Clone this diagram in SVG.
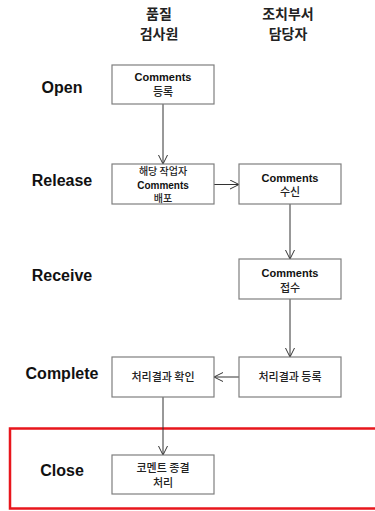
<svg xmlns="http://www.w3.org/2000/svg" width="375" height="511" viewBox="0 0 375 511">
<style>
.box{fill:#fff;stroke:#7f7f7f;stroke-width:1.2}
.lbl{font-family:"Liberation Sans","Noto Sans CJK KR",sans-serif;font-weight:bold;font-size:16px;fill:#111;text-anchor:middle}
.hdr{font-family:"Noto Sans CJK KR",sans-serif;font-weight:bold;font-size:14px;fill:#222;text-anchor:middle}
.en{font-family:"Liberation Sans","Noto Sans CJK KR",sans-serif;font-weight:bold;font-size:11px;fill:#111;text-anchor:middle}
.ko{font-family:"Noto Sans CJK KR",sans-serif;font-weight:500;font-size:11px;fill:#222;text-anchor:middle}
.sm{font-size:10px}
.con{stroke:#333;stroke-width:1;fill:none;marker-end:url(#v)}
</style>
<defs>
<marker id="v" viewBox="0 0 10 10" refX="10" refY="5" markerWidth="10" markerHeight="10" markerUnits="userSpaceOnUse" orient="auto">
<polyline points="1,0.5 10,5 1,9.5" fill="none" stroke="#333" stroke-width="1"/>
</marker>
</defs>
<rect x="10" y="428.5" width="370" height="80" fill="none" stroke="#e8161c" stroke-width="2.5"/>
<g id="headers">
<text class="hdr" x="159" y="19">품질</text>
<text class="hdr" x="159" y="39">검사원</text>
<text class="hdr" x="288" y="19">조치부서</text>
<text class="hdr" x="288" y="39">담당자</text>
</g>
<g id="phases">
<text class="lbl" x="62" y="93">Open</text>
<text class="lbl" x="62" y="186">Release</text>
<text class="lbl" x="62" y="281">Receive</text>
<text class="lbl" x="62" y="379">Complete</text>
<text class="lbl" x="62" y="476">Close</text>
</g>
<g id="connectors">
<line class="con" x1="163" y1="104" x2="163" y2="164"/>
<line class="con" x1="214" y1="184.5" x2="239" y2="184.5"/>
<line class="con" x1="290" y1="204" x2="290" y2="259"/>
<line class="con" x1="290" y1="299" x2="290" y2="357"/>
<line class="con" x1="239" y1="377" x2="214" y2="377"/>
<line class="con" x1="163" y1="397" x2="163" y2="455"/>
</g>
<g id="open">
<rect class="box" x="112" y="65" width="102" height="39"/>
<text class="en" x="163" y="81">Comments</text>
<text class="ko" x="163" y="96">등록</text>
</g>
<g id="release-dist">
<rect class="box" x="112" y="164" width="102" height="40"/>
<text class="ko sm" x="163" y="175">해당 작업자</text>
<text class="en sm" x="163" y="188.5">Comments</text>
<text class="ko sm" x="163" y="201.5">배포</text>
</g>
<g id="release-recv">
<rect class="box" x="239" y="164" width="102" height="40"/>
<text class="en" x="290" y="182">Comments</text>
<text class="ko" x="290" y="196">수신</text>
</g>
<g id="receive">
<rect class="box" x="239" y="259" width="102" height="40"/>
<text class="en" x="290" y="277">Comments</text>
<text class="ko" x="290" y="292">접수</text>
</g>
<g id="complete-confirm">
<rect class="box" x="112" y="357" width="102" height="40"/>
<text class="ko" x="163" y="381">처리결과 확인</text>
</g>
<g id="complete-register">
<rect class="box" x="239" y="357" width="102" height="40"/>
<text class="ko" x="290" y="381">처리결과 등록</text>
</g>
<g id="close">
<rect class="box" x="112" y="455" width="102" height="39"/>
<text class="ko" x="163" y="472">코멘트 종결</text>
<text class="ko" x="163" y="487">처리</text>
</g>
</svg>
